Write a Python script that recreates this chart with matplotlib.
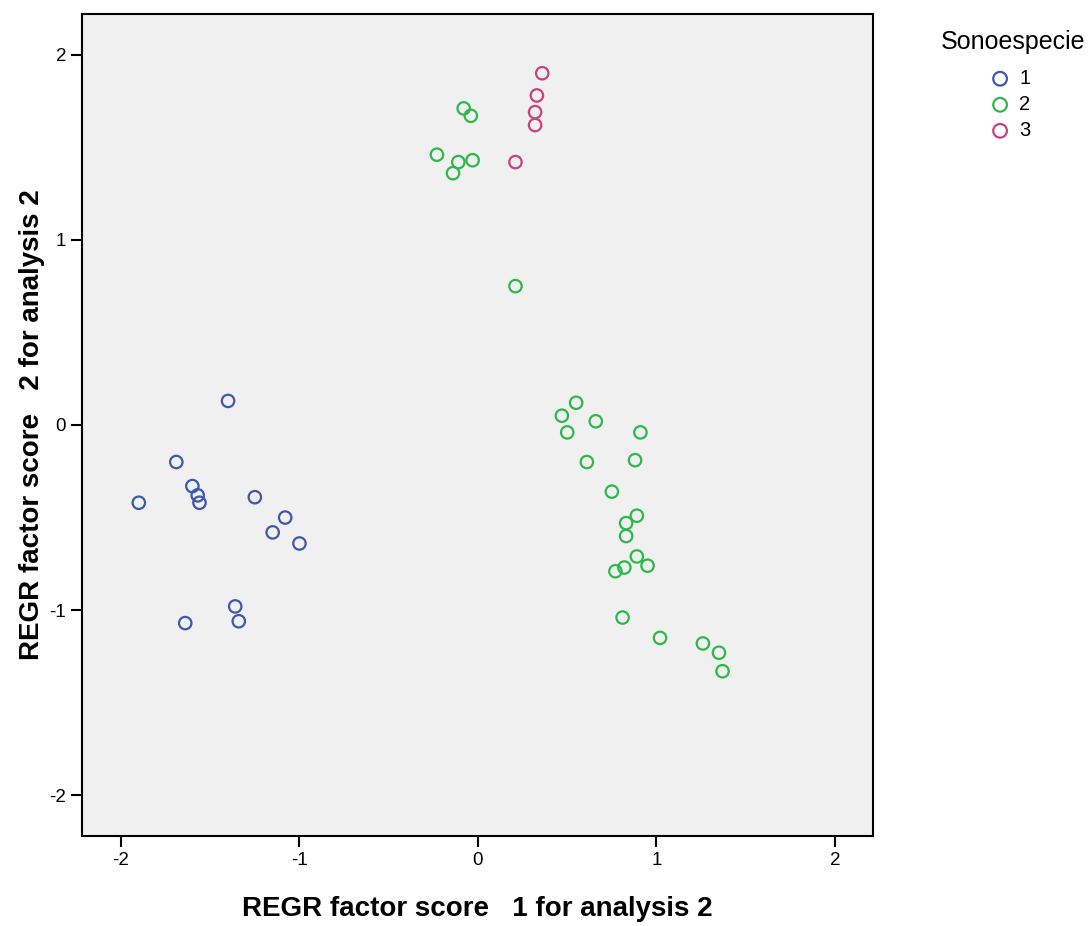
import matplotlib
matplotlib.use("Agg")
import matplotlib.pyplot as plt

plt.rcParams["font.family"] = ["Liberation Sans", "DejaVu Sans"]
plt.rcParams["axes.unicode_minus"] = False

# ================================
# Data
# ================================
groups = ["1", "2", "3"]

x_1 = [-1.40, -1.69, -1.90, -1.60, -1.57, -1.56, -1.25, -1.08, -1.15, -1.00, -1.36, -1.34, -1.64]
y_1 = [0.13, -0.20, -0.42, -0.33, -0.38, -0.42, -0.39, -0.50, -0.58, -0.64, -0.98, -1.06, -1.07]

x_2 = [-0.08, -0.04, -0.23, -0.11, -0.03, -0.14, 0.21,
       0.55, 0.47, 0.66, 0.50, 0.91, 0.61, 0.88, 0.75, 0.89, 0.83, 0.83,
       0.89, 0.95, 0.82, 0.77, 0.81, 1.02, 1.26, 1.35, 1.37]
y_2 = [1.71, 1.67, 1.46, 1.42, 1.43, 1.36, 0.75,
       0.12, 0.05, 0.02, -0.04, -0.04, -0.20, -0.19, -0.36, -0.49, -0.53, -0.60,
       -0.71, -0.76, -0.77, -0.79, -1.04, -1.15, -1.18, -1.23, -1.33]

x_3 = [0.36, 0.33, 0.32, 0.32, 0.21]
y_3 = [1.90, 1.78, 1.69, 1.62, 1.42]

colors = ["#3E58AC", "#2DB84B", "#C8427F"]
ticks = [-2, -1, 0, 1, 2]

# ================================
# Plot
# ================================
fig = plt.figure(figsize=(10.91, 9.26), dpi=100)
ax = fig.add_axes([0.0752, 0.0972, 0.725, 0.8877])
ax.set_facecolor("#F0F0F0")

for xs, ys, c, g in zip([x_1, x_2, x_3], [y_1, y_2, y_3], colors, groups):
    ax.scatter(xs, ys, s=80, facecolors="none", edgecolors=c, linewidths=1.6, label=g)

ax.set_xlim(-2.218, 2.213)
ax.set_ylim(-2.22, 2.22)
ax.set_xticks(ticks)
ax.set_yticks(ticks)
ax.tick_params(direction="out", length=8, width=1.5, labelsize=13.5, pad=3.5)
for sp in ax.spines.values():
    sp.set_linewidth(1.5)

ax.set_xlabel("REGR factor score   1 for analysis 2", fontsize=20, fontweight="bold")
ax.set_ylabel("REGR factor score   2 for analysis 2", fontsize=20, fontweight="bold")
ax.xaxis.set_label_coords(0.5, -0.073)
ax.yaxis.set_label_coords(-0.047, 0.5)

# legend: title as text, entries below it
fig.text(1013 / 1091, 1 - 42 / 926, "Sonoespecie", fontsize=18, ha="center", va="center")
fig.legend(loc="upper left", bbox_to_anchor=(988 / 1091, 1 - 69 / 926),
           frameon=False, fontsize=14.5, handletextpad=0.35, borderpad=0,
           borderaxespad=0, labelspacing=0.35, handlelength=1.2, markerscale=1.1)

fig.savefig("out.png", dpi=100)
